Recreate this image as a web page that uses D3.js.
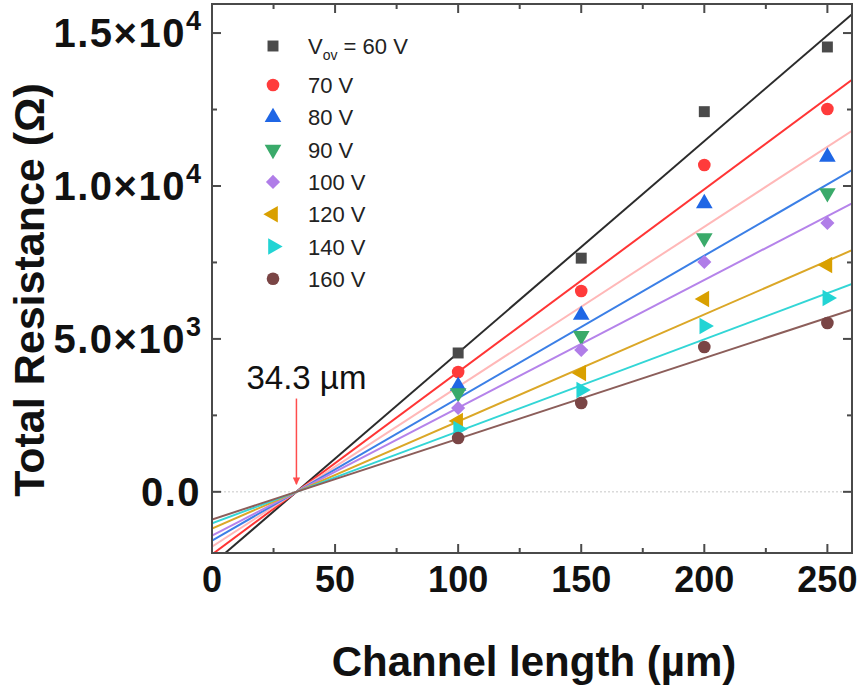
<!DOCTYPE html>
<html><head><meta charset="utf-8">
<script src="https://cdn.jsdelivr.net/npm/d3@7"></script>
<style>html,body{margin:0;padding:0;background:#fff;}svg{display:block;}</style>
</head><body>
<svg id="chart" width="865" height="690"></svg>
<script>
// ---- data ----
const channelLength = [100, 150, 200, 250];
const voltageLabels = ["60 V", "70 V", "80 V", "90 V", "100 V", "120 V", "140 V", "160 V"];
const r60  = [4540, 7640, 12430, 14545];
const r70  = [3917, 6566, 10686, 12517];
const r80  = [3460, 5781, 9430, 10948];
const r90  = [3231, 5100, 8299, 9771];
const r100 = [2741, 4637, 7514, 8790];
const r120 = [2316, 3885, 6305, 7416];
const r140 = [2054, 3329, 5422, 6337];
const r160 = [1759, 2904, 4735, 5520];
const fitSlopes = [69.2, 59.7, 52.3, 46.6, 41.8, 35.0, 30.1, 26.4];
const fitXIntercept = 34.3;
const xTicks = [0, 50, 100, 150, 200, 250];
const xMinorTicks = [25, 75, 125, 175, 225];
const yTicks = [0, 5000, 10000, 15000];
const yMinorTicks = [2500, 7500, 12500];
const yTickMantissa = ["0.0", "5.0×10", "1.0×10", "1.5×10"];
const yTickExponent = ["", "3", "4", "4"];
const annotationText = "34.3 µm";
const annotationArrow = [3050, 250];

const markerColors = ["#4a4a4a", "#ff3b3b", "#1f66e5", "#3aaa6a", "#b07de8", "#d9a000", "#22d4d4", "#7a4545"];
const lineColors = ["#2b2b2b", "#ff3535", "#ffb8b8", "#3b7fe6", "#b583ea", "#dba727", "#33d6d6", "#8c5e5a"];
const symbolTypes = [d3.symbolSquare, d3.symbolCircle, d3.symbolTriangle, d3.symbolTriangle, d3.symbolSquare, d3.symbolTriangle, d3.symbolTriangle, d3.symbolCircle];
const symbolRotations = [0, 0, 0, 180, 45, -90, 90, 0];
const symbolSizes = [120, 125, 120, 120, 100, 120, 120, 125];

const seriesValues = [r60, r70, r80, r90, r100, r120, r140, r160];

// ---- layout ----
const svg = d3.select("#chart");
const L = 212, R = 852, T = 4, B = 553;
const x = d3.scaleLinear().domain([0, 260]).range([L, R]);
const y = d3.scaleLinear().domain([-2000, 15950]).range([B, T]);
const font = "'Liberation Sans', Arial, sans-serif";

svg.append("defs").append("clipPath").attr("id", "plotclip")
  .append("rect").attr("x", L).attr("y", T).attr("width", R - L).attr("height", B - T);

// zero reference line
svg.append("line").attr("x1", L).attr("x2", R).attr("y1", y(0)).attr("y2", y(0))
  .attr("stroke", "#dadada").attr("stroke-width", 1.5).attr("stroke-dasharray", "2,2");

// fit lines
const plot = svg.append("g").attr("clip-path", "url(#plotclip)");
fitSlopes.forEach((s, i) => {
  const line = d3.line().x(d => x(d)).y(d => y(s * (d - fitXIntercept)));
  plot.append("path").datum([0, 260]).attr("d", line)
    .attr("fill", "none").attr("stroke", lineColors[i]).attr("stroke-width", 2);
});

// markers
seriesValues.forEach((vals, i) => {
  const sym = d3.symbol().type(symbolTypes[i]).size(symbolSizes[i]);
  svg.append("g").selectAll("path").data(vals).join("path")
    .attr("d", sym)
    .attr("transform", (d, j) => `translate(${x(channelLength[j])},${y(d)}) rotate(${symbolRotations[i]})`)
    .attr("fill", markerColors[i]);
});

// frame
svg.append("rect").attr("x", L).attr("y", T).attr("width", R - L).attr("height", B - T)
  .attr("fill", "none").attr("stroke", "#4a4a4a").attr("stroke-width", 2);

// axes with inward ticks on all sides
const axG = svg.append("g").attr("stroke", "#4a4a4a").attr("stroke-width", 2);
function tickMarks(vals, len, horizontal) {
  vals.forEach(v => {
    if (horizontal) {
      axG.append("line").attr("x1", x(v)).attr("x2", x(v)).attr("y1", B).attr("y2", B - len);
      axG.append("line").attr("x1", x(v)).attr("x2", x(v)).attr("y1", T).attr("y2", T + len);
    } else {
      axG.append("line").attr("y1", y(v)).attr("y2", y(v)).attr("x1", L).attr("x2", L + len);
      axG.append("line").attr("y1", y(v)).attr("y2", y(v)).attr("x1", R).attr("x2", R - len);
    }
  });
}
tickMarks(xTicks, 9, true);
tickMarks(xMinorTicks, 5, true);
tickMarks(yTicks, 9, false);
tickMarks(yMinorTicks, 5, false);

// x tick labels
svg.append("g").selectAll("text").data(xTicks).join("text")
  .attr("x", d => x(d)).attr("y", 592)
  .attr("text-anchor", "middle").attr("font-family", font).attr("font-weight", "bold")
  .attr("font-size", 36).attr("fill", "#111").text(d => d);

// y tick labels
yTicks.forEach((v, i) => {
  const t = svg.append("text").attr("x", 201).attr("y", y(v) + 14)
    .attr("text-anchor", "end").attr("font-family", font).attr("font-weight", "bold")
    .attr("font-size", 40).attr("letter-spacing", 1.5).attr("fill", "#111");
  t.append("tspan").text(yTickMantissa[i]);
  if (yTickExponent[i]) t.append("tspan").attr("font-size", 27).attr("dy", -17).attr("letter-spacing", 0).text(yTickExponent[i]);
});

// axis titles
svg.append("text").attr("x", (L + R) / 2 + 2).attr("y", 676).attr("text-anchor", "middle")
  .attr("font-family", font).attr("font-weight", "bold").attr("font-size", 42).attr("fill", "#111")
  .text("Channel length (µm)");
svg.append("text").attr("transform", `translate(44,290) rotate(-90)`).attr("text-anchor", "middle")
  .attr("font-family", font).attr("font-weight", "bold").attr("font-size", 43).attr("fill", "#111")
  .text("Total Resistance (Ω)");

// annotation
const ax = x(fitXIntercept);
svg.select("defs").append("marker").attr("id", "arrowhead").attr("viewBox", "0 0 10 10")
  .attr("refX", 9).attr("refY", 5).attr("markerWidth", 5).attr("markerHeight", 5).attr("orient", "auto")
  .append("path").attr("d", "M0,0 L10,5 L0,10 z").attr("fill", "#ff4d4d");
svg.append("line").attr("x1", ax).attr("x2", ax).attr("y1", y(annotationArrow[0])).attr("y2", y(annotationArrow[1]))
  .attr("stroke", "#ff4d4d").attr("stroke-width", 1.5).attr("marker-end", "url(#arrowhead)");
svg.append("text").attr("x", ax + 10).attr("y", 389).attr("text-anchor", "middle")
  .attr("font-family", font).attr("font-size", 33).attr("fill", "#111").text(annotationText);

// legend
const legX = 273, textX = 308;
const legY = voltageLabels.map((d, i) => i === 0 ? 46 : 85 + (i - 1) * 32.3);
voltageLabels.forEach((lab, i) => {
  const sym = d3.symbol().type(symbolTypes[i]).size(symbolSizes[i]);
  svg.append("path").attr("d", sym)
    .attr("transform", `translate(${legX},${legY[i]}) rotate(${symbolRotations[i]})`)
    .attr("fill", markerColors[i]);
  const t = svg.append("text").attr("x", textX).attr("y", legY[i] + 8)
    .attr("font-family", font).attr("font-size", 22).attr("fill", "#222");
  if (i === 0) {
    t.append("tspan").text("V");
    t.append("tspan").attr("font-size", 14).attr("dy", 6).text("ov");
    t.append("tspan").attr("dy", -6).text(" = " + lab);
  } else {
    t.text(lab);
  }
});
</script>
</body></html>
